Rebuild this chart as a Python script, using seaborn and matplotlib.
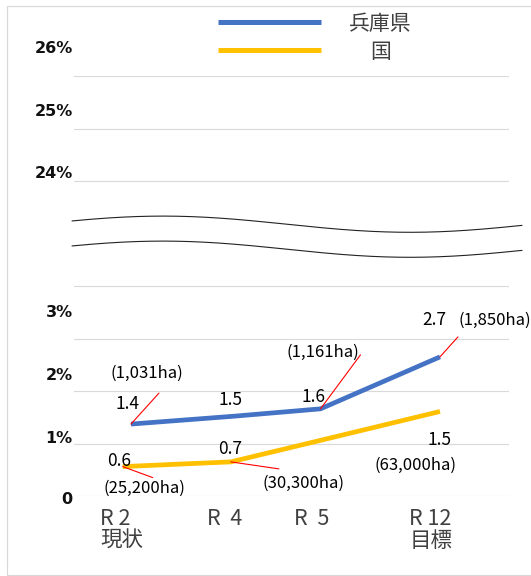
import numpy as np
import pandas as pd
import matplotlib
matplotlib.use('Agg')
import matplotlib.pyplot as plt
import matplotlib.transforms as mtransforms
from matplotlib.lines import Line2D
from matplotlib.patches import Rectangle
import seaborn as sns

# ---------------- data ----------------
categories = ['R 2\n現状', 'R  4', 'R  5', 'R 12\n目標']
x_hyogo = [0, 1, 1.84, 3]
x_kuni = [-0.08, 0.97, 1.84, 3]
hyogo = [1.37, 1.52, 1.66, 2.65]
kuni = [0.56, 0.65, 1.06, 1.61]
series_names = ['兵庫県', '国']
hyogo_labels = ['1.4', '1.5', '1.6', '2.7']
hyogo_area = ['(1,031ha)', None, '(1,161ha)', '(1,850ha)']
kuni_labels = ['0.6', '0.7', None, '1.5']
kuni_area = ['(25,200ha)', '(30,300ha)', None, '(63,000ha)']
y_tick_texts = ['0', '1%', '2%', '3%', '24%', '25%', '26%']

# ---------------- layout ----------------
y_tick_text_pos = [-0.06, 1.10, 2.30, 3.50, 6.15, 7.33, 8.53]
grid_vals = list(range(9))
hyogo_val_off = [(-3, 20), (-3, 16), (-7, 12), (-6, 37)]
hyogo_area_off = [(16, 51), None, (2, 57), (55, 37)]
hyogo_leader = [(28, 31), None, (40, 54), (18, 20)]
kuni_val_off = [(-4, 6), (-1, 13), None, (0, -29)]
kuni_area_off = [(22, -22), (73, -21), None, (-24, -54)]
kuni_leader = [(30, -11), (48, -7), None, None]

BLUE = '#4472C4'
YELLOW = '#FFC000'
GRAY_TXT = '#404040'

sns.set_theme(style='white')
plt.rcParams['font.family'] = ['Noto Sans CJK JP', 'DejaVu Sans']

W, H = 531, 576
fig = plt.figure(figsize=(W / 100, H / 100), dpi=100)
ax = fig.add_axes([74 / W, 1 - 496 / H, 435 / W, 420 / H])
T = mtransforms.Affine2D().scale(1 / W, -1 / H).translate(0, 1) + fig.transFigure

df = pd.DataFrame({
    'x': x_hyogo + x_kuni,
    'value': hyogo + kuni,
    'series': [series_names[0]] * 4 + [series_names[1]] * 4,
})
sns.lineplot(data=df, x='x', y='value', hue='series', palette=[BLUE, YELLOW],
             linewidth=3.4, legend=False, sort=False, ax=ax,
             solid_capstyle='butt', zorder=5)

ax.set_xlim(-0.553, 3.670)
ax.set_ylim(0, 8)
ax.set_yticks(grid_vals)
ax.set_yticklabels([])
ax.set_xticks([])
ax.set_xlabel('')
ax.set_ylabel('')
ax.tick_params(length=0)
ax.grid(axis='y', color='#D9D9D9', lw=0.8)
ax.grid(axis='x', visible=False)
for s in ax.spines.values():
    s.set_visible(False)

# y tick texts
ytr = mtransforms.blended_transform_factory(ax.transAxes, ax.transData)
for t, p in zip(y_tick_texts, y_tick_text_pos):
    ax.text(-0.003, p, t, transform=ytr, ha='right', va='center',
            fontsize=11.5, fontweight='bold', family='DejaVu Sans',
            color='#111111', clip_on=False)

# x category labels
for cx, cat in zip(x_hyogo, categories):
    ax.annotate(cat, xy=(cx, 0), xycoords=('data', 'axes fraction'),
                xytext=(-9, -12), textcoords='offset pixels',
                ha='center', va='top', multialignment='left',
                fontsize=15.5, color=GRAY_TXT, linespacing=0.98)

# data labels
def put_labels(xs, ys, vals, val_off, areas, area_off, leaders):
    for i in range(len(xs)):
        if leaders[i] is not None:
            ax.annotate('', xy=(xs[i], ys[i]), xytext=leaders[i],
                        textcoords='offset pixels',
                        arrowprops=dict(arrowstyle='-', color='#FF0000', lw=0.8,
                                        shrinkA=0, shrinkB=0), zorder=6)
        if vals[i] is not None:
            ax.annotate(vals[i], xy=(xs[i], ys[i]), xytext=val_off[i],
                        textcoords='offset pixels', ha='center', va='center',
                        fontsize=12.5, color='black', zorder=7)
        if areas[i] is not None:
            ax.annotate(areas[i], xy=(xs[i], ys[i]), xytext=area_off[i],
                        textcoords='offset pixels', ha='center', va='center',
                        fontsize=12, color='black', zorder=7, annotation_clip=False)

put_labels(x_hyogo, hyogo, hyogo_labels, hyogo_val_off, hyogo_area, hyogo_area_off, hyogo_leader)
put_labels(x_kuni, kuni, kuni_labels, kuni_val_off, kuni_area, kuni_area_off, kuni_leader)

# axis break (wavy band)
wx = np.linspace(72, 522, 300)
w_up = 224.2 - 8.1 * np.cos((wx - 163) / 494 * 2 * np.pi)
w_lo = w_up + 25
ax.fill_between(wx, w_up, w_lo, transform=T, color='white', zorder=8, clip_on=False)
ax.plot(wx, w_up, transform=T, color='#222222', lw=0.8, zorder=9, clip_on=False)
ax.plot(wx, w_lo, transform=T, color='#222222', lw=0.8, zorder=9, clip_on=False)

# legend (manual)
for yy, col, name, tx in [(21.8, BLUE, series_names[0], 380), (49.8, YELLOW, series_names[1], 381)]:
    fig.add_artist(Line2D([218, 321], [yy, yy], transform=T, color=col, lw=3.6,
                          solid_capstyle='butt'))
    fig.text(tx, yy + 2, name, transform=T, ha='center', va='center',
             fontsize=15, color=GRAY_TXT)

# chart border
fig.add_artist(Rectangle((7, 6), 600, 569, transform=T, fill=False,
                         ec='#D9D9D9', lw=0.9))

fig.savefig('out.png', dpi=100)
